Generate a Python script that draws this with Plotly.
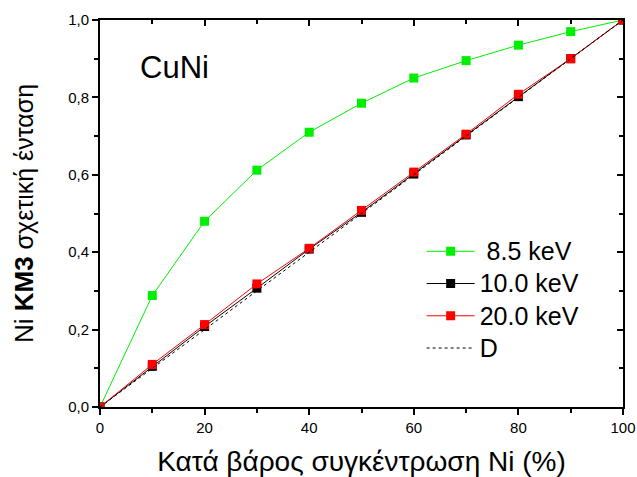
import plotly.graph_objects as go

# Ni concentration (wt %)
conc = [0, 10, 20, 30, 40, 50, 60, 70, 80, 90, 100]

# Relative Ni KM3 intensity at each excitation energy
i_85 = [0.0, 0.288, 0.48, 0.612, 0.71, 0.785, 0.85, 0.895, 0.935, 0.97, 1.0]
i_100 = [0.0, 0.105, 0.208, 0.307, 0.408, 0.503, 0.602, 0.703, 0.802, 0.9, 1.0]
i_200 = [0.0, 0.11, 0.213, 0.318, 0.41, 0.508, 0.607, 0.705, 0.808, 0.9, 1.0]
diag_x = [0, 100]
diag_y = [0.0, 1.0]

x_major = [0, 20, 40, 60, 80, 100]
x_minor = [10, 30, 50, 70, 90]
y_major = [0, 0.2, 0.4, 0.6, 0.8, 1.0]
y_minor = [0.1, 0.3, 0.5, 0.7, 0.9]

FONT = "Liberation Sans, Arial, sans-serif"


def legend_label(text):
    return f"<span style='font-size:25px'>{text}</span>"


fig = go.Figure()
series = [
    (" 8.5 keV", i_85, "#00ee00"),
    ("10.0 keV", i_100, "#000000"),
    ("20.0 keV", i_200, "#ff0000"),
]
for name, vals, col in series:
    fig.add_trace(go.Scatter(
        x=conc, y=vals, name=legend_label(name), mode="lines+markers",
        line=dict(color=col, width=1),
        marker=dict(symbol="square", size=9, color=col),
    ))
fig.add_trace(go.Scatter(
    x=diag_x, y=diag_y, name=legend_label("D"), mode="lines",
    line=dict(color="black", width=1, dash="3px,3px"),
))

axis_common = dict(
    showline=True, linecolor="black", linewidth=2,
    showgrid=False, zeroline=False, automargin=False,
    ticklen=6, tickwidth=1.5, tickcolor="black",
)
minor_out = dict(ticks="outside", ticklen=4, tickcolor="black", tickwidth=1.5)
minor_in = dict(ticks="inside", ticklen=4, tickcolor="black", tickwidth=1.5)

fig.update_layout(
    width=637, height=477,
    margin=dict(l=100, r=14, t=20, b=70),
    paper_bgcolor="white", plot_bgcolor="white",
    separators=",.",
    font=dict(family=FONT, color="black"),
    showlegend=True,
    legend=dict(
        x=0.615, y=0.457, xanchor="left", yanchor="top",
        font=dict(size=22.5, family=FONT),
        bgcolor="rgba(0,0,0,0)", tracegroupgap=0,
        itemwidth=48,
    ),
    xaxis=dict(
        range=[0, 100], tickvals=x_major, ticks="outside",
        tickfont=dict(size=15, family=FONT), ticklabeloverflow="allow",
        minor=dict(tickvals=x_minor, **minor_out),
        title=dict(text="Κατά βάρος συγκέντρωση Ni (%)",
                   font=dict(size=28, family=FONT), standoff=17),
        **axis_common,
    ),
    yaxis=dict(
        range=[0, 1.0], tickvals=y_major, tickformat=".1f", ticks="outside",
        tickfont=dict(size=15, family=FONT),
        minor=dict(tickvals=y_minor, **minor_out),
        title=dict(text="<span style='font-size:26px'>Ni <b>KM3</b></span> σχετική ένταση",
                   font=dict(size=25, family=FONT), standoff=27),
        **axis_common,
    ),
    xaxis2=dict(
        overlaying="x", side="top", range=[0, 100],
        tickvals=x_major, ticks="inside", showticklabels=False,
        minor=dict(tickvals=x_minor, **minor_in),
        **axis_common,
    ),
    yaxis2=dict(
        overlaying="y", side="right", range=[0, 1.0],
        tickvals=y_major, ticks="inside", showticklabels=False,
        minor=dict(tickvals=y_minor, **minor_in),
        **axis_common,
    ),
    annotations=[dict(
        x=0.073, y=0.876, xref="paper", yref="paper", xanchor="left", yanchor="middle",
        text="CuNi", showarrow=False, font=dict(size=31, family=FONT),
    )],
)

# invisible trace to activate the mirrored top/right axes
fig.add_trace(go.Scatter(x=[None], y=[None], xaxis="x2", yaxis="y2",
                         showlegend=False, hoverinfo="skip"))

fig.write_html("out.html")
